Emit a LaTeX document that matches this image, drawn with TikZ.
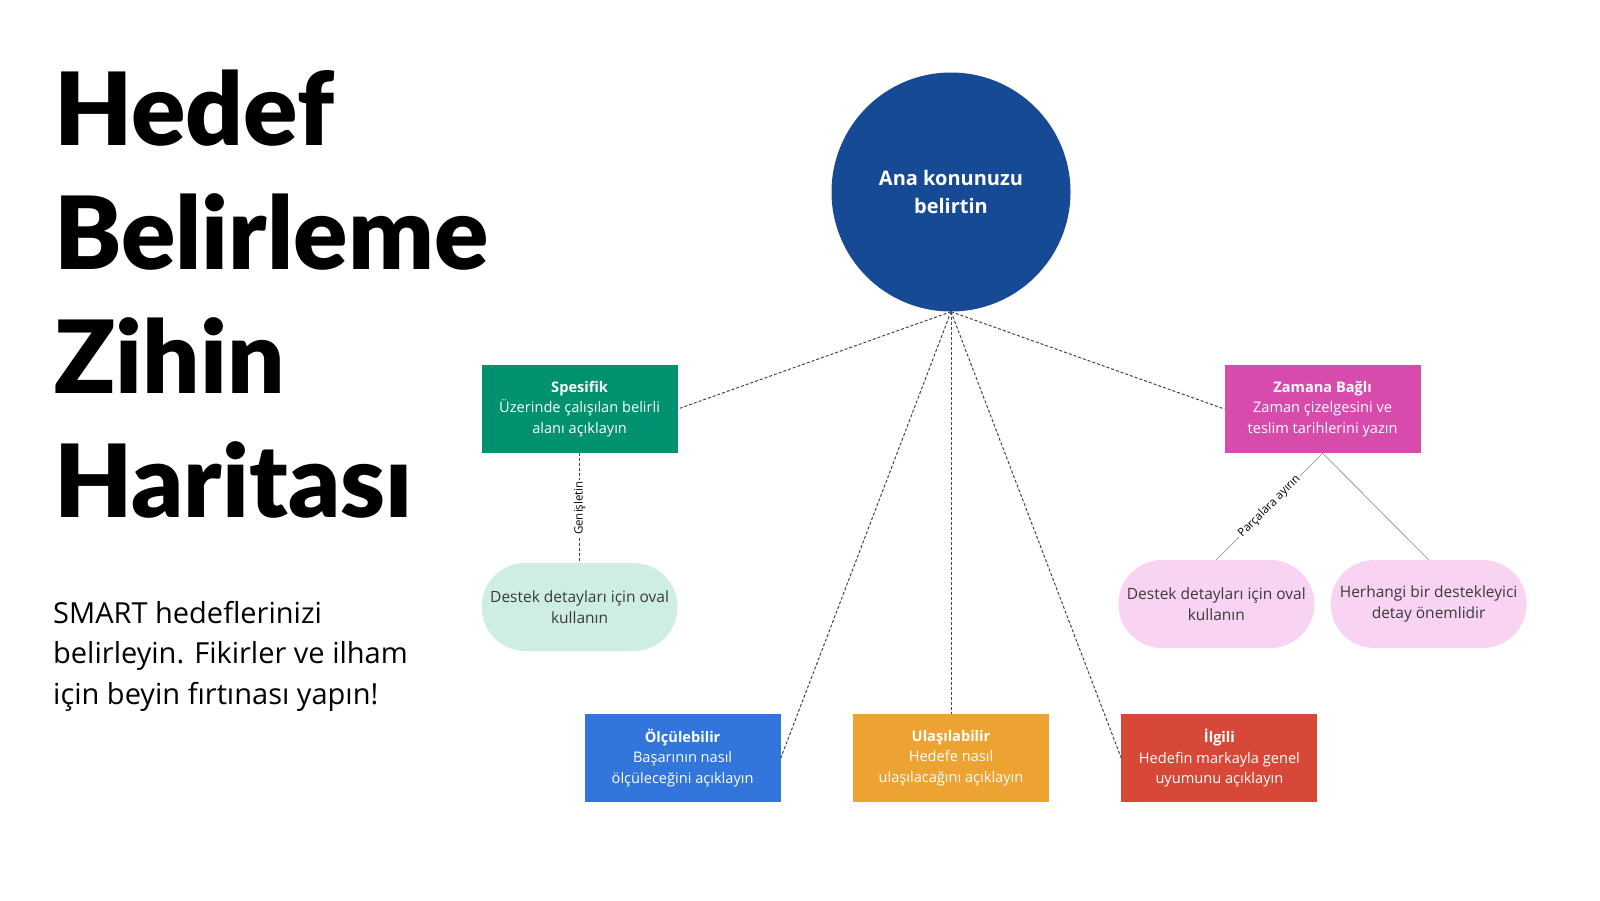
\documentclass[tikz,border=0pt]{standalone}
\usepackage{fontspec}
\setmainfont{Open Sans}
\newfontfamily\titlefont{Lato Black}

\definecolor{topicblue}{HTML}{174A94}
\definecolor{specgreen}{HTML}{00916E}
\definecolor{timepink}{HTML}{D64BAC}
\definecolor{measblue}{HTML}{3276DB}
\definecolor{reachorange}{HTML}{ECA332}
\definecolor{relred}{HTML}{D84839}
\definecolor{mintoval}{HTML}{CEEDE5}
\definecolor{pinkoval}{HTML}{F9D3F2}
\definecolor{ovaltext}{HTML}{3A3A3A}
\definecolor{spokegray}{HTML}{444444}

\tikzset{
  titleline/.style={anchor=base west, inner sep=0pt, font=\titlefont\fontsize{101}{101}\selectfont},
  subline/.style={anchor=base west, inner sep=0pt, text=black, font=\fontsize{29}{40}\selectfont},
  topic/.style={circle, fill=topicblue, minimum size=239pt, inner sep=0pt, align=center,
    text=white, font=\bfseries\fontsize{20}{27.3}\selectfont},
  goalbox/.style={rectangle, minimum width=196pt, minimum height=88pt, inner sep=0pt,
    align=center, text=white, font=\fontsize{14.6}{20.3}\selectfont},
  ovalbox/.style={rectangle, rounded corners=43.9pt, minimum width=196pt, minimum height=88pt,
    inner sep=0pt, align=center, text=ovaltext, font=\fontsize{15.5}{20.5}\selectfont},
  spoke/.style={draw=spokegray, line width=1pt, dash pattern=on 3pt off 2pt},
  branch/.style={draw=gray!80, line width=0.8pt},
  edgelabel/.style={fill=white, inner sep=1.5pt, text=black, font=\fontsize{11.5}{13}\selectfont}
}

\begin{document}
\begin{tikzpicture}[x=1pt,y=-1pt]
\useasboundingbox (0,0) rectangle (1600,900);

% title and intro
\foreach \w [count=\i] in {Hedef,Belirleme,Zihin,Haritası}
  \node[titleline] (title\i) at ({54},{145+124.3*(\i-1)}) {\w};
\node[subline] (sub1) at (53,623) {SMART hedeflerinizi};
\node[subline] (sub2) at (53,663.5) {belirleyin. Fikirler ve ilham};
\node[subline] (sub3) at (53,704) {için beyin fırtınası yapın!};

% main topic
\node[topic] (topic) at (951,192) {Ana konunuzu\\belirtin};

% SMART boxes
\node[goalbox, fill=specgreen] (spec) at (579.6,409) {\textbf{Spesifik}\\Üzerinde çalışılan belirli\\alanı açıklayın};
\node[goalbox, fill=timepink] (time) at (1322.6,409) {\textbf{Zamana Bağlı}\\Zaman çizelgesini ve\\teslim tarihlerini yazın};
\node[goalbox, fill=measblue] (meas) at (682.6,758) {\textbf{Ölçülebilir}\\Başarının nasıl\\ölçüleceğini açıklayın};
\node[goalbox, fill=reachorange] (reach) at (951,758) {\textbf{Ulaşılabilir}\\Hedefe nasıl\\ulaşılacağını açıklayın};
\node[goalbox, fill=relred] (rel) at (1219.4,758) {\textbf{İlgili}\\Hedefin markayla genel\\uyumunu açıklayın};

% detail ovals
\node[ovalbox, fill=mintoval] (specdet) at (579.6,607) {Destek detayları için oval\\kullanın};
\node[ovalbox, fill=pinkoval] (timedet1) at (1216.3,604) {Destek detayları için oval\\kullanın};
\node[ovalbox, fill=pinkoval] (timedet2) at (1428.6,604) {Herhangi bir destekleyici\\detay önemlidir};

% connectors
\draw[spoke] (topic.south) -- (spec.east);
\draw[spoke] (topic.south) -- (time.west);
\draw[spoke] (topic.south) -- (meas.east);
\draw[spoke] (topic.south) -- (reach.north);
\draw[spoke] (topic.south) -- (rel.west);
\draw[spoke] (spec.south) -- node[edgelabel, rotate=90] (expandlbl) {Genişletin} (specdet.north);
\draw[branch] (time.south) -- node[edgelabel, sloped] (splitlbl) {Parçalara ayırın} (timedet1.north);
\draw[branch] (time.south) -- (timedet2.north);
\end{tikzpicture}
\end{document}
